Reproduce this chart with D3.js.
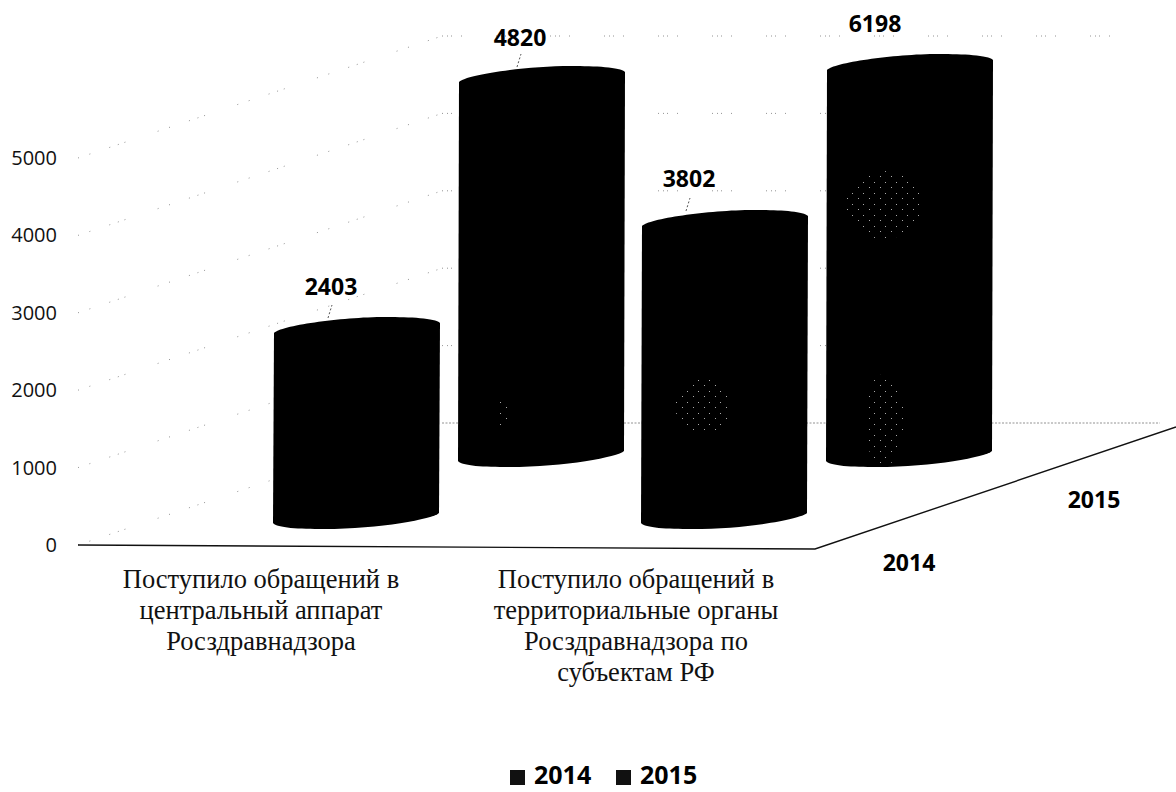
<!DOCTYPE html>
<html>
<head>
<meta charset="utf-8">
<script src="https://cdn.jsdelivr.net/npm/d3@7"></script>
<style>
  html, body { margin: 0; padding: 0; background: white; }
  svg { display: block; }
</style>
</head>
<body>
<svg id="main-svg" width="1176" height="792"></svg>
<script>
// values
var categories = [
    ["Поступило обращений в", "центральный аппарат", "Росздравнадзора"],
    ["Поступило обращений в", "территориальные органы", "Росздравнадзора по", "субъектам РФ"]
];
var series = ["2014", "2015"];
var values2014 = [2403, 3802];
var values2015 = [4820, 6198];
var yTicks = [0, 1000, 2000, 3000, 4000, 5000];

var svg = d3.select("#main-svg");
var sansFont = "'Open Sans', sans-serif";
var serifFont = "'Liberation Serif', serif";

// axis scale on the left wall
var y = d3.scaleLinear().domain([0, 5000]).range([545, 158]);

// the 3d projection squeezes the columns unevenly, so each row gets its own scale
var yFront = d3.scaleLinear().domain([0, 2403, 3802]).range([529, 317, 210]);
var yBack = d3.scaleLinear().domain([0, 4820, 6198]).range([467, 66, 54]);

var xCat = d3.scalePoint().domain([0, 1]).range([357, 725]);
var xSeries = d3.scaleOrdinal().domain(series).range([0, 185]);
var colWidth = 166;

// wall gridlines, sparse dots like the scan
var wallX = 78, backX = 442, depthRise = 122;
var grid = svg.append("g");
yTicks.forEach(function(t) {
    var backY = y(t) - depthRise;
    // only the floor and the top line run past the last column
    var backEnd = t === 0 ? 1160 : (t === 5000 ? 1140 : 994);
    grid.append("path")
        .attr("d", "M" + wallX + "," + y(t) + "L" + backX + "," + backY)
        .attr("fill", "none")
        .attr("stroke", "#777")
        .attr("stroke-width", 0.8)
        .attr("stroke-dasharray", "1 11 1 20 1 8 1 6 1 34");
    grid.append("path")
        .attr("d", "M" + backX + "," + backY + "L" + backEnd + "," + backY)
        .attr("fill", "none")
        .attr("stroke", "#777")
        .attr("stroke-width", 0.8)
        .attr("stroke-dasharray", t === 0 ? "2 1.5" : "1 4 1 3 1 9 1 34");
});

// floor edges
svg.append("path")
    .attr("d", "M" + wallX + "," + y(0) + "L815,549L1176,427")
    .attr("fill", "none")
    .attr("stroke", "#111")
    .attr("stroke-width", 1.4);

// cylinder outline: the ellipses are skewed, high point of top sits right of centre
function cylinder(cx, yTop, yBottom) {
    var x0 = cx - colWidth / 2, x1 = cx + colWidth / 2;
    return "M" + x0 + "," + (yTop + 16) +
        "C" + (x0 + 6) + "," + (yTop + 9) + " " + (x0 + 65) + "," + yTop + " " + (x0 + 112) + "," + yTop +
        "C" + (x1 - 30) + "," + yTop + " " + (x1 - 5) + "," + (yTop + 1) + " " + x1 + "," + (yTop + 6) +
        "L" + (x1 - 1) + "," + (yBottom - 16) +
        "C" + (x1 - 7) + "," + (yBottom - 10) + " " + (x1 - 60) + "," + yBottom + " " + (x0 + 50) + "," + yBottom +
        "C" + (x0 + 25) + "," + yBottom + " " + (x0 + 3) + "," + (yBottom - 1) + " " + (x0 - 1) + "," + (yBottom - 6) + "Z";
}

var rows = [
    { name: "2015", values: values2015, scale: yBack },
    { name: "2014", values: values2014, scale: yFront }
];

// back row first, front row overlaps it
rows.forEach(function(row) {
    svg.append("g").selectAll("path")
        .data(row.values)
        .join("path")
        .attr("d", function(d, i) {
            return cylinder(xCat(i) + xSeries(row.name), row.scale(d), row.scale(0));
        })
        .attr("fill", "#000");
});

// speckled patches left in the black by the scan
var speck = svg.append("defs").append("pattern")
    .attr("id", "speck")
    .attr("width", 11)
    .attr("height", 11)
    .attr("patternUnits", "userSpaceOnUse");
speck.append("rect").attr("width", 1).attr("height", 1).attr("fill", "#aaa");
speck.append("rect").attr("x", 5).attr("y", 6).attr("width", 1).attr("height", 1).attr("fill", "#aaa");
[[884, 205, 38, 34], [884, 420, 20, 46], [703, 406, 28, 28], [503, 414, 7, 14]].forEach(function(p) {
    svg.append("ellipse")
        .attr("cx", p[0]).attr("cy", p[1])
        .attr("rx", p[2]).attr("ry", p[3])
        .attr("fill", "url(#speck)");
});

// data labels sit by hand placed in the original, keep offsets from the column top
var labelDx = { "2014": [-26, -36], "2015": [-22, -35] };
var labelDy = { "2014": [-22, -23], "2015": [-20, -22] };
rows.forEach(function(row) {
    row.values.forEach(function(d, i) {
        var cx = xCat(i) + xSeries(row.name);
        var top = row.scale(d);
        svg.append("text")
            .attr("x", cx + labelDx[row.name][i])
            .attr("y", top + labelDy[row.name][i])
            .attr("text-anchor", "middle")
            .style("font-family", sansFont)
            .style("font-weight", 700)
            .style("font-size", "23px")
            .attr("fill", "#000")
            .text(d);
        // leader lines, the last column has none
        if (d !== 6198) {
            svg.append("line")
                .attr("x1", cx + labelDx[row.name][i] - 3)
                .attr("y1", top + 1)
                .attr("x2", cx + labelDx[row.name][i] + 1)
                .attr("y2", top - 12)
                .attr("stroke", "#555")
                .attr("stroke-width", 1)
                .attr("stroke-dasharray", "2 2");
        }
    });
});

// y axis labels
svg.append("g").selectAll("text")
    .data(yTicks)
    .join("text")
    .attr("x", 57)
    .attr("y", function(d) { return y(d) + 7; })
    .attr("text-anchor", "end")
    .style("font-family", sansFont)
    .style("font-size", "20px")
    .attr("fill", "#111")
    .text(function(d) { return d; });

// category labels
categories.forEach(function(lines, i) {
    var t = svg.append("text")
        .attr("text-anchor", "middle")
        .style("font-family", serifFont)
        .style("font-size", "26.5px")
        .attr("fill", "#111");
    lines.forEach(function(line, j) {
        t.append("tspan")
            .attr("x", i === 0 ? 261 : 636)
            .attr("y", 588 + j * 31)
            .text(line);
    });
});

// depth axis labels
svg.append("text").attr("x", 909).attr("y", 571).attr("text-anchor", "middle")
    .style("font-family", sansFont).style("font-weight", 700).style("font-size", "23px").text(series[0]);
svg.append("text").attr("x", 1094).attr("y", 508).attr("text-anchor", "middle")
    .style("font-family", sansFont).style("font-weight", 700).style("font-size", "23px").text(series[1]);

// legend, pulled up a little so the text box stays inside the page
var legend = svg.append("g");
var legendX = d3.scaleOrdinal().domain(series).range([510, 616]);
series.forEach(function(s) {
    legend.append("rect")
        .attr("x", legendX(s))
        .attr("y", 770)
        .attr("width", 15)
        .attr("height", 15)
        .attr("fill", "#111");
    legend.append("text")
        .attr("x", legendX(s) + 24)
        .attr("y", 784)
        .style("font-family", sansFont)
        .style("font-weight", 700)
        .style("font-size", "25px")
        .attr("fill", "#000")
        .text(s);
});
</script>
</body>
</html>
